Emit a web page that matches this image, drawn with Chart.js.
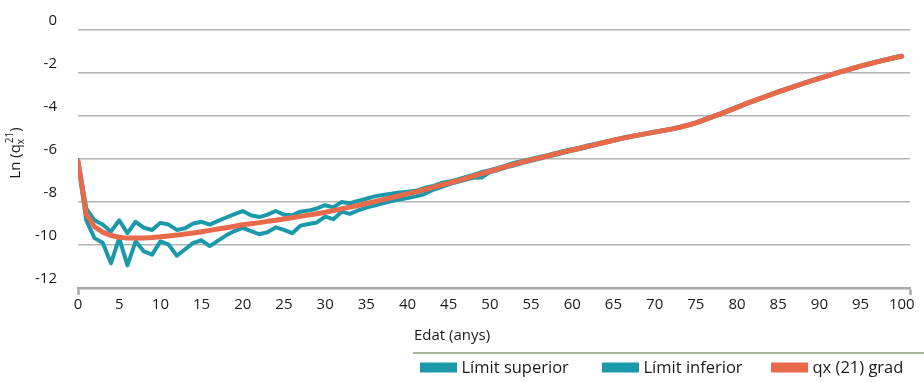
<!DOCTYPE html>
<html>
<head>
<meta charset="utf-8">
<script src="https://cdn.jsdelivr.net/npm/chart.js@4/dist/chart.umd.min.js"></script>
<style>
  html, body { margin: 0; padding: 0; background: #ffffff; }
  #wrap { width: 924px; height: 382px; position: relative; }
</style>
</head>
<body>
<div id="wrap"><canvas id="c" width="924" height="382"></canvas></div>
<script>
// Age in years (x)
const ages = [
  0, 1, 2, 3, 4, 5, 6, 7, 8, 9, 10, 11, 12, 13, 14, 15, 16, 17, 18, 19, 20,
  21, 22, 23, 24, 25, 26, 27, 28, 29, 30, 31, 32, 33, 34, 35, 36, 37, 38, 39, 40,
  41, 42, 43, 44, 45, 46, 47, 48, 49, 50, 51, 52, 53, 54, 55, 56, 57, 58, 59, 60,
  61, 62, 63, 64, 65, 66, 67, 68, 69, 70, 71, 72, 73, 74, 75, 76, 77, 78, 79, 80,
  81, 82, 83, 84, 85, 86, 87, 88, 89, 90, 91, 92, 93, 94, 95, 96, 97, 98, 99, 100
];

// Upper confidence limit of ln(qx)
const upperLimit = [
  -6.05, -8.30, -8.85, -9.05, -9.38, -8.85, -9.45, -8.92, -9.20, -9.30, -8.97,
  -9.05, -9.30, -9.22, -9.00, -8.92, -9.05, -8.88, -8.72, -8.56, -8.42,
  -8.62, -8.70, -8.59, -8.42, -8.59, -8.62, -8.45, -8.40, -8.30, -8.15,
  -8.25, -8.00, -8.06, -7.95, -7.85, -7.74, -7.67, -7.62, -7.56, -7.52,
  -7.48, -7.35, -7.27, -7.13, -7.05, -6.96, -6.85, -6.74, -6.61, -6.52,
  -6.41, -6.30, -6.17, -6.09, -6.00, -5.91, -5.82, -5.72, -5.63, -5.54,
  -5.46, -5.36, -5.28, -5.19, -5.11, -5.02, -4.94, -4.87, -4.80, -4.73,
  -4.66, -4.59, -4.51, -4.41, -4.30, -4.16, -4.02, -3.88, -3.73, -3.58,
  -3.42, -3.28, -3.14, -3.00, -2.86, -2.73, -2.60, -2.47, -2.35, -2.23,
  -2.11, -1.99, -1.88, -1.77, -1.66, -1.56, -1.46, -1.37, -1.28, -1.20
];

// Lower confidence limit of ln(qx)
const lowerLimit = [
  -6.10, -8.85, -9.68, -9.90, -10.85, -9.68, -10.95, -9.83, -10.30, -10.45, -9.83,
  -9.98, -10.50, -10.20, -9.90, -9.78, -10.05, -9.80, -9.55, -9.35, -9.20,
  -9.35, -9.50, -9.41, -9.18, -9.30, -9.45, -9.10, -9.02, -8.95, -8.68,
  -8.80, -8.45, -8.55, -8.39, -8.26, -8.17, -8.06, -7.97, -7.88, -7.82,
  -7.74, -7.64, -7.45, -7.32, -7.18, -7.07, -6.97, -6.87, -6.86, -6.61,
  -6.51, -6.39, -6.29, -6.18, -6.08, -5.99, -5.89, -5.80, -5.70, -5.61,
  -5.52, -5.43, -5.34, -5.25, -5.15, -5.06, -4.98, -4.91, -4.84, -4.77,
  -4.70, -4.63, -4.55, -4.45, -4.34, -4.20, -4.06, -3.92, -3.77, -3.62,
  -3.46, -3.32, -3.18, -3.04, -2.90, -2.77, -2.64, -2.51, -2.39, -2.27,
  -2.15, -2.03, -1.92, -1.81, -1.70, -1.60, -1.50, -1.41, -1.32, -1.24
];

// Graduated ln(qx), table 21
const graduated = [
  -6.10, -8.55, -9.15, -9.40, -9.56, -9.64, -9.68, -9.68, -9.67, -9.65, -9.62,
  -9.58, -9.54, -9.49, -9.44, -9.38, -9.32, -9.26, -9.20, -9.13, -9.06,
  -9.01, -8.96, -8.90, -8.85, -8.79, -8.73, -8.67, -8.61, -8.55, -8.48,
  -8.40, -8.32, -8.24, -8.16, -8.07, -7.98, -7.89, -7.80, -7.71, -7.62,
  -7.53, -7.43, -7.33, -7.22, -7.12, -7.02, -6.91, -6.80, -6.68, -6.57,
  -6.46, -6.35, -6.24, -6.14, -6.04, -5.95, -5.86, -5.76, -5.67, -5.58,
  -5.49, -5.40, -5.31, -5.22, -5.13, -5.04, -4.96, -4.89, -4.82, -4.75,
  -4.68, -4.61, -4.53, -4.43, -4.32, -4.18, -4.04, -3.90, -3.75, -3.60,
  -3.44, -3.30, -3.16, -3.02, -2.88, -2.75, -2.62, -2.49, -2.37, -2.25,
  -2.13, -2.01, -1.90, -1.79, -1.68, -1.58, -1.48, -1.39, -1.30, -1.22
];

const seriesLabels = ['Límit superior', 'Límit inferior', 'qx (21) grad'];
const xTickValues = [0, 5, 10, 15, 20, 25, 30, 35, 40, 45, 50, 55, 60, 65, 70, 75, 80, 85, 90, 95, 100];
const yTickValues = [0, -2, -4, -6, -8, -10, -12];

const TEAL = '#1b99ab';
const CORAL = '#e9694b';
const FONT = '"Open Sans", "DejaVu Sans", sans-serif';
const TEXT = '#1a1a1a';

const toPoints = (vals) => ages.map((a, i) => ({ x: a, y: vals[i] }));

// Axis titles (with sub/superscript) and the legend row under the plot
const decorations = {
  id: 'decorations',
  afterDraw(chart) {
    const ctx = chart.ctx;
    ctx.save();
    ctx.fillStyle = TEXT;

    // Y title: Ln (q_x^21)
    ctx.font = '15px ' + FONT;
    const wMain = ctx.measureText('Ln (q').width;
    const wClose = ctx.measureText(')').width;
    ctx.font = '10px ' + FONT;
    const wSub = ctx.measureText('x').width;
    const wSup = ctx.measureText('21').width;
    const wMid = Math.max(wSub, wSup + 1);
    const total = wMain + wMid + wClose;
    ctx.translate(20, 153);
    ctx.rotate(-Math.PI / 2);
    ctx.textBaseline = 'alphabetic';
    let x = -total / 2;
    ctx.font = '15px ' + FONT; ctx.fillText('Ln (q', x, 0); x += wMain;
    ctx.font = '10px ' + FONT; ctx.fillText('x', x, 4);
    ctx.fillText('21', x + 1, -7);
    x += wMid;
    ctx.font = '15px ' + FONT; ctx.fillText(')', x, 0);
    ctx.restore();

    ctx.save();
    // X title
    ctx.fillStyle = TEXT;
    ctx.font = '15px ' + FONT;
    ctx.textAlign = 'center';
    ctx.textBaseline = 'alphabetic';
    ctx.fillText('Edat (anys)', 452, 340);

    // Legend separator
    ctx.strokeStyle = '#8e9e72';
    ctx.lineWidth = 1.5;
    ctx.beginPath();
    ctx.moveTo(413, 353);
    ctx.lineTo(924, 353);
    ctx.stroke();

    // Legend entries
    const boxX = [420, 602, 771];
    ctx.font = '16.5px ' + FONT;
    ctx.textAlign = 'left';
    chart.data.datasets.forEach((ds, i) => {
      ctx.fillStyle = ds.borderColor;
      ctx.fillRect(boxX[i], 362.5, 37, 10);
      ctx.fillStyle = TEXT;
      ctx.fillText(ds.label, boxX[i] + 41.5, 373);
    });
    ctx.restore();
  }
};

new Chart(document.getElementById('c'), {
  type: 'line',
  data: {
    datasets: [
      { label: seriesLabels[0], data: toPoints(upperLimit), borderColor: TEAL, backgroundColor: TEAL,
        borderWidth: 4, pointRadius: 0, tension: 0, order: 2, borderJoinStyle: 'round', borderCapStyle: 'round' },
      { label: seriesLabels[1], data: toPoints(lowerLimit), borderColor: TEAL, backgroundColor: TEAL,
        borderWidth: 4, pointRadius: 0, tension: 0, order: 1, borderJoinStyle: 'round', borderCapStyle: 'round' },
      { label: seriesLabels[2], data: toPoints(graduated), borderColor: CORAL, backgroundColor: CORAL,
        borderWidth: 5, pointRadius: 0, tension: 0, order: 0, borderJoinStyle: 'round', borderCapStyle: 'round' }
    ]
  },
  options: {
    responsive: false,
    animation: false,
    devicePixelRatio: 1,
    layout: { padding: { top: 24, right: 14, left: 0, bottom: 0 } },
    plugins: { legend: { display: false }, tooltip: { enabled: false } },
    scales: {
      x: {
        type: 'linear',
        min: 0,
        max: 101,
        afterBuildTicks: (scale) => {
          scale.ticks = xTickValues.map(v => ({ value: v })).concat([{ value: 101 }]);
        },
        afterFit: (scale) => { scale.height = 94; },
        ticks: {
          autoSkip: false,
          maxRotation: 0,
          padding: 1,
          color: TEXT,
          font: { family: FONT, size: 15 },
          callback: (v) => (v === 101 ? '' : String(v))
        },
        grid: {
          drawOnChartArea: false,
          drawTicks: true,
          tickLength: 7,
          tickWidth: 2.5,
          tickColor: (c) => (c.tick && (c.tick.value === 0 || c.tick.value === 101)) ? '#a8a8a8' : 'rgba(0,0,0,0)'
        },
        border: { display: true, color: '#a8a8a8', width: 2.5 }
      },
      y: {
        type: 'linear',
        min: -12,
        max: 0,
        afterBuildTicks: (scale) => {
          scale.ticks = yTickValues.map(v => ({ value: v }));
        },
        afterFit: (scale) => { scale.width = 78; },
        ticks: {
          padding: 21,
          labelOffset: -9,
          color: TEXT,
          font: { family: FONT, size: 15 },
          callback: (v) => String(v)
        },
        grid: {
          drawTicks: false,
          lineWidth: 1.5,
          color: (c) => (c.tick && c.tick.value === -12) ? 'rgba(0,0,0,0)' : '#b4b4b4'
        },
        border: { display: false }
      }
    }
  },
  plugins: [decorations]
});
</script>
</body>
</html>
